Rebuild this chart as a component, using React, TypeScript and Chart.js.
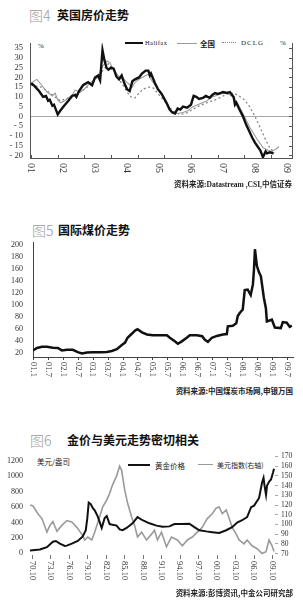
import React, { useEffect, useRef } from 'react';
import { Chart, registerables } from 'chart.js';
Chart.register(...registerables);

// ---------- Chart 1: UK house prices (x = months since Jan 2001) ----------
const ukLabelMonths = [0, 12, 24, 36, 48, 60, 72, 84, 96];
const ukLabels = ['01', '02', '03', '04', '05', '06', '07', '08', '09'];
const ukYTicks = [35, 30, 25, 20, 15, 10, 5, 0, -5, -10, -15, -20];
const ukMinorMonths = [0, 10, 20, 30, 40, 50, 60, 70, 80, 90];

const halifaxM = [0,1,2,3,4.5,5.6,6.4,7,8,8.6,10,11,12.4,14,15.4,16.5,17,18,19.5,21.4,22.9,24,25.1,25.9,26.8,27.5,28.3,29,30,31,32,33,34,35,36,37,38,39,40.5,41.6,43,44,44.6,45,46.5,47.6,49,50,51,52,53,54,55,56,57,58.5,60,61,62,63,64.5,65.6,67,68,69,70,71,72,73.5,74.6,76,76.5,77,78,79.5,80.6,82,83,84,85,86,87,88,88.5,89.6,91];
const halifaxV = [17,16,14.5,13,10,10.5,8,8.5,5.5,6,1,3,5.5,8,10.5,11,10,13,16,17.6,16,20,21,18.5,34,29,25,24,25,24.5,20.5,19,21,17,14,13,18,19,20,22,23.5,23.5,21,22,17,14,11.5,9,6.5,3.5,2,1.5,4,3.5,5,4.5,6,10.5,10,9,9.5,10.5,9.5,11,12,11.5,12,12.5,12,12.5,10,6,7,4,0,-4,-8,-11,-13.5,-15.5,-17.5,-21,-18,-19,-18.5,-19];

const nationM = [0,1.5,2.2,4,6,8,9,10,11.2,12.7,15.4,16.5,18.4,20,22,24.7,26,27,28.5,29.6,30.7,32.6,34.5,36.4,38,39,41,43,44,44.6,45.7,47.6,49.5,51.4,53,55,57,59,60.7,63.4,66,68,71,73.5,75.7,77.6,79.5,82,84.7,87,89,90.4,92.2,93];
const nationV = [17,18.5,19,16,12.5,10.5,12,8.5,7,8,11,13.5,12.5,14,17,20,23,26,28.5,27.5,24.5,21,19.5,17,15,17.5,19.5,21,21.5,20,17.5,14,10,5,2,1.5,2,3,5,6.5,8,10,11.5,12,10,6.5,1.5,-5.5,-11.5,-16,-17.5,-18,-16.5,-15.5];

const dclgM = [0,4,8,11,15,19,23,26,29,31,33,34.5,36,37.5,39,40.5,42,44,46,48,50,52,54,56,58,60,62.5,66,70,73.5,76,78,80,82,84,86,88,89.5,90.5,91.5];
const dclgV = [16,15,11,8,10,13,17,22,27,24,19,16,12.5,10,9.5,12,14,15,14.5,11,8,4.5,2,1,1.5,3,5,7,9,11.5,12,10.5,8.5,5,0,-6,-12,-16,-17.5,-18.5];

// ---------- Chart 2: coal price (x = months since Jan 2001) ----------
const coalLabelMonths = [0,6,12,18,24,30,36,42,48,54,60,66,72,78,84,90,96,102];
const coalLabels = ['01.1','01.7','02.1','02.7','03.1','03.7','04.1','04.7','05.1','05.7','06.1','06.7','07.1','07.7','08.1','08.7','09.1','09.7'];
const coalYTicks = [200,180,160,140,120,100,80,60,40,20];
const coalM = [0,1.6,3.6,5.6,8,10,11.6,13.7,16,18,19.7,21.7,24,27,29.7,31.7,33.7,35.7,37,38,39.8,41,42,43.8,45.8,48.2,51,53.8,55,57,58.2,59.8,61.8,63,65.9,68,69,70.3,71.9,73.9,76.3,77.9,78.3,80.3,81.7,82.3,83.1,84.3,85.1,86.3,87.5,88.4,88.8,89.2,90,90.8,91.6,92.8,93.6,94,96,97.2,99.6,100.4,102,103.2,104];
const coalV = [25,29,31,31,29.5,29,25,26,26,22,20,21.5,22,22,22.5,24,27,34,38,46,53,58,60,55,51.5,50,50,50,46,40,36,40,46,50,50,48.5,43,39,46,49,51.5,52,65,66,70,82,87,93,125,126,117,135,158,193,165,155,148,112,95,73,76,63,62,72,71,64,66];

// ---------- Chart 3: gold vs USD index (x = decimal year) ----------
const goldLabelYears = [1970.75,1973.75,1976.75,1979.75,1982.75,1985.75,1988.75,1991.75,1994.75,1997.75,2000.75,2003.75,2006.75,2009.75];
const goldLabels = ['70.10','73.10','76.10','79.10','82.10','85.10','88.10','91.10','94.10','97.10','00.10','03.10','06.10','09.10'];
const goldYTicks = [1200,1000,800,600,400,200,0];
const usdYTicks = [170,160,150,140,130,120,110,100,90,80,70];
const goldYear = [1970.43,1972.04,1973.18,1974.15,1974.63,1975.28,1976.09,1976.41,1977.22,1978.19,1979.0,1979.49,1979.73,1979.97,1980.3,1980.62,1980.94,1981.43,1982.08,1982.56,1982.89,1983.37,1983.86,1984.5,1984.99,1985.48,1986.12,1987.09,1987.9,1988.71,1989.84,1990.98,1991.95,1993.08,1993.89,1995.02,1996.32,1997.13,1997.93,1999.07,2000.04,2001.17,2002.3,2003.27,2004.08,2004.89,2005.7,2006.35,2006.83,2007.64,2008.13,2008.37,2008.53,2008.77,2008.94,2009.26,2009.58,2009.91,2010.07];
const goldV = [35,50,80,150,160,125,95,100,125,160,220,300,450,660,640,590,560,480,330,460,485,380,370,360,310,300,330,390,470,430,390,360,345,350,380,380,385,340,300,285,275,265,300,340,400,430,470,600,620,720,920,980,880,760,880,930,960,1050,1100];
const usdYear = [1970.43,1970.91,1971.72,1972.37,1973.18,1973.66,1974.15,1974.8,1975.6,1976.41,1977.22,1978.03,1978.84,1979.33,1979.81,1980.46,1980.94,1981.75,1982.24,1982.89,1983.37,1983.86,1984.5,1984.99,1985.31,1985.8,1986.28,1986.93,1987.42,1987.9,1988.55,1989.36,1990.17,1990.65,1991.14,1991.79,1992.6,1993.4,1994.37,1995.18,1995.99,1996.8,1997.61,1998.42,1999.23,2000.04,2000.69,2001.17,2001.66,2002.3,2002.79,2003.27,2003.92,2004.4,2005.21,2005.7,2006.51,2007.32,2008.13,2008.77,2009.26,2009.75,2010.07];
const usdV = [120,119,111,106,92,99,103,93,99,104,102.5,97,90,84,87,84,92,108,118,125,132,141,150,160,156,136,122,108,99,87,92,84,90,94,84,92,77,87,84,78,84,87,92,97,106,111,117,118,111,115,106,97,90,84,80,84,78,75,70,72,84,78,72];

const SERIF = "'Liberation Serif', 'DejaVu Serif', serif";
const CJK = "'Noto Sans CJK SC', 'Noto Sans', sans-serif";
const MIX = "'Liberation Serif', 'Noto Sans CJK SC', serif";

const pts = (xs: number[], ys: number[]) => xs.map((x, i) => ({ x, y: ys[i] }));
const setTicks = (vals: number[]) => (s: any) => { s.ticks = vals.map((v) => ({ value: v })); };

type DecorCfg = {
  lineColor?: string;
  rightLine?: boolean;
  rightTicks?: { scale: string; values: number[]; len: number };
  xTicks?: { values: number[]; len: number; dir: number; color?: string };
  xLabels?: { values: number[]; texts: string[]; offset: number; font: string; color: string };
};

function makeDecor(cfg: DecorCfg) {
  return {
    id: 'decor',
    afterDraw(chart: any) {
      const { ctx, chartArea: a, scales } = chart;
      const xs = scales.x;
      ctx.save();
      ctx.lineWidth = 1;
      ctx.strokeStyle = cfg.lineColor || '#555';
      if (cfg.rightLine) {
        const rx = Math.round(a.right) + 0.5;
        ctx.beginPath(); ctx.moveTo(rx, a.top); ctx.lineTo(rx, a.bottom); ctx.stroke();
      }
      if (cfg.rightTicks) {
        const s = scales[cfg.rightTicks.scale];
        const rx = Math.round(a.right);
        cfg.rightTicks.values.forEach((v) => {
          const py = Math.round(s.getPixelForValue(v)) + 0.5;
          ctx.beginPath(); ctx.moveTo(rx - cfg.rightTicks!.len, py); ctx.lineTo(rx, py); ctx.stroke();
        });
      }
      if (cfg.xTicks) {
        const t = cfg.xTicks;
        if (t.color) ctx.strokeStyle = t.color;
        const by = Math.round(a.bottom);
        t.values.forEach((v) => {
          const px = Math.round(xs.getPixelForValue(v)) + 0.5;
          ctx.beginPath(); ctx.moveTo(px, by); ctx.lineTo(px, by + t.dir * t.len); ctx.stroke();
        });
      }
      if (cfg.xLabels) {
        const l = cfg.xLabels;
        ctx.font = l.font;
        ctx.fillStyle = l.color;
        ctx.textAlign = 'left';
        ctx.textBaseline = 'middle';
        l.values.forEach((v, i) => {
          const px = xs.getPixelForValue(v);
          ctx.save();
          ctx.translate(px, a.bottom + l.offset);
          ctx.rotate(Math.PI / 2);
          ctx.fillText(l.texts[i], 0, 0);
          ctx.restore();
        });
      }
      ctx.restore();
    },
  };
}

const lineDs = (data: any[], color: string, width: number, extra: any = {}) => ({
  data, borderColor: color, borderWidth: width, pointRadius: 0, tension: 0, fill: false, ...extra,
});

const plain = (v: number) => String(v);

function cfgUK(): any {
  return {
    type: 'line',
    data: {
      datasets: [
        lineDs(pts(halifaxM, halifaxV), '#111', 2.4, { label: 'Halifax' }),
        lineDs(pts(nationM, nationV), '#9a9a9a', 1.1, { label: '全国' }),
        lineDs(pts(dclgM, dclgV), '#858585', 1.3, { label: 'DCLG', borderDash: [2, 2.5] }),
      ],
    },
    options: {
      responsive: false, animation: false,
      layout: { padding: { top: 15, right: 11, bottom: 25, left: 0 } },
      plugins: { legend: { display: false }, tooltip: { enabled: false } },
      scales: {
        x: { type: 'linear', min: -0.4, max: 97.9, ticks: { display: false }, grid: { display: false, drawTicks: false }, border: { display: true, color: '#555', width: 1 } },
        y: {
          type: 'linear', min: -21.4, max: 37.7,
          afterBuildTicks: setTicks(ukYTicks),
          afterFit: (s: any) => { s.width = 30; },
          ticks: { autoSkip: false, padding: 7, color: '#333', font: { family: SERIF, size: 8.5, lineHeight: 1 }, callback: (v: number) => (v < 0 ? '- ' + -v : String(v)) },
          grid: { drawTicks: false, color: (c: any) => (c.tick && c.tick.value === 0 ? '#a8a8a8' : 'rgba(0,0,0,0)') },
          border: { display: true, color: '#555', width: 1 },
        },
      },
    },
    plugins: [makeDecor({
      lineColor: '#555', rightLine: true,
      rightTicks: { scale: 'y', values: ukYTicks, len: 3 },
      xTicks: { values: ukMinorMonths, len: 3, dir: -1 },
      xLabels: { values: ukLabelMonths, texts: ukLabels, offset: 5, font: `10px ${SERIF}`, color: '#333' },
    })],
  };
}

function cfgCoal(): any {
  return {
    type: 'line',
    data: { datasets: [lineDs(pts(coalM, coalV), '#111', 2.5)] },
    options: {
      responsive: false, animation: false,
      layout: { padding: { top: 15, right: 10, bottom: 25, left: 0 } },
      plugins: { legend: { display: false }, tooltip: { enabled: false } },
      scales: {
        x: { type: 'linear', min: 0, max: 104.5, ticks: { display: false }, grid: { display: false, drawTicks: false }, border: { display: true, color: '#444', width: 1 } },
        y: {
          type: 'linear', min: 14, max: 205,
          afterBuildTicks: setTicks(coalYTicks),
          afterFit: (s: any) => { s.width = 33; },
          ticks: { autoSkip: false, padding: 10, color: '#333', font: { family: SERIF, size: 8, lineHeight: 1 }, callback: plain },
          grid: { display: false, drawTicks: false },
          border: { display: true, color: '#444', width: 1 },
        },
      },
    },
    plugins: [makeDecor({
      lineColor: '#444',
      xTicks: { values: coalLabelMonths, len: 3, dir: 1 },
      xLabels: { values: coalLabelMonths, texts: coalLabels, offset: 5, font: `8.5px ${SERIF}`, color: '#333' },
    })],
  };
}

function cfgGold(): any {
  return {
    type: 'line',
    data: {
      datasets: [
        lineDs(pts(goldYear, goldV), '#111', 2, { yAxisID: 'y' }),
        lineDs(pts(usdYear, usdV), '#9a9a9a', 1.6, { yAxisID: 'y2' }),
      ],
    },
    options: {
      responsive: false, animation: false,
      layout: { padding: { top: 15, right: 0, bottom: 35, left: 0 } },
      plugins: { legend: { display: false }, tooltip: { enabled: false } },
      scales: {
        x: { type: 'linear', min: 1970.43, max: 2010.23, ticks: { display: false }, grid: { display: false, drawTicks: false }, border: { display: false } },
        y: {
          type: 'linear', position: 'left', min: -22, max: 1278,
          afterBuildTicks: setTicks(goldYTicks),
          afterFit: (s: any) => { s.width = 30; },
          ticks: { autoSkip: false, padding: 7, color: '#333', font: { family: SERIF, size: 8, lineHeight: 1 }, callback: plain },
          grid: { display: false, drawTicks: false },
          border: { display: false },
        },
        y2: {
          type: 'linear', position: 'right', min: 68.5, max: 171.5,
          afterBuildTicks: setTicks(usdYTicks),
          afterFit: (s: any) => { s.width = 28; },
          ticks: { autoSkip: false, padding: 3, color: '#333', font: { family: SERIF, size: 7.5, lineHeight: 1 }, callback: plain },
          grid: { drawOnChartArea: false, drawTicks: true, tickLength: 3, color: '#aaa' },
          border: { display: false },
        },
      },
    },
    plugins: [makeDecor({
      lineColor: '#777',
      xTicks: { values: goldLabelYears, len: 4, dir: 1 },
      xLabels: { values: goldLabelYears, texts: goldLabels, offset: 6, font: `8.5px ${SERIF}`, color: '#333' },
    })],
  };
}

function Txt(p: { x: number; y: number; size: number; color?: string; weight?: number; family?: string; align?: 'left' | 'right'; spacing?: number; children: any }) {
  const style: any = {
    position: 'absolute', top: p.y - p.size * 0.6, fontSize: p.size, lineHeight: `${p.size * 1.2}px`,
    color: p.color || '#222', fontWeight: p.weight || 400, fontFamily: p.family || CJK, whiteSpace: 'nowrap',
    letterSpacing: p.spacing ? `${p.spacing}px` : undefined,
  };
  if (p.align === 'right') style.right = 303 - p.x; else style.left = p.x;
  return <div style={style}>{p.children}</div>;
}

function Ln(p: { x: number; y: number; w: number; t: number; color: string; style?: string }) {
  return <div style={{ position: 'absolute', left: p.x, top: p.y - p.t / 2, width: p.w, height: 0, borderTop: `${p.t}px ${p.style || 'solid'} ${p.color}` }} />;
}

export default function App() {
  const r1 = useRef<HTMLCanvasElement>(null);
  const r2 = useRef<HTMLCanvasElement>(null);
  const r3 = useRef<HTMLCanvasElement>(null);

  useEffect(() => {
    const charts = [
      new Chart(r1.current as HTMLCanvasElement, cfgUK()),
      new Chart(r2.current as HTMLCanvasElement, cfgCoal()),
      new Chart(r3.current as HTMLCanvasElement, cfgGold()),
    ];
    return () => charts.forEach((c) => c.destroy());
  }, []);

  const cv = (top: number, h: number): any => ({ position: 'absolute', left: 0, top, width: 303, height: h });

  return (
    <div style={{ position: 'absolute', left: 0, top: 0, width: 303, height: 600, background: '#fff', overflow: 'hidden' }}>
      {/* Chart 1 */}
      <Txt x={29} y={15} size={14} color="#9a9a9a" weight={300}>图4</Txt>
      <Txt x={57} y={15} size={12} weight={700} color="#111">英国房价走势</Txt>
      <Txt x={38} y={46} size={7} family={SERIF}>%</Txt>
      <Ln x={125} y={43} w={18} t={2.5} color="#111" />
      <Txt x={145} y={43} size={6.5} family={SERIF} spacing={0.4}>Halifax</Txt>
      <Ln x={177} y={43} w={20} t={1} color="#999" />
      <Txt x={200} y={43} size={7.5} weight={700}>全国</Txt>
      <Ln x={222} y={43} w={14} t={1.5} color="#888" style="dotted" />
      <Txt x={241} y={43} size={7} family={SERIF} spacing={1}>DCLG</Txt>
      <Txt x={280} y={43} size={7} family={SERIF}>%</Txt>
      <canvas ref={r1} width={303} height={155} style={cv(28, 155)} />
      <Txt x={292} y={184} size={7.5} family={MIX} align="right" weight={600}>资料来源:Datastream ,CSI,中信证券</Txt>

      {/* Chart 2 */}
      <Txt x={32} y={230} size={14} color="#9a9a9a" weight={300}>图5</Txt>
      <Txt x={58} y={230} size={12} weight={700} color="#111">国际煤价走势</Txt>
      <canvas ref={r2} width={303} height={155} style={cv(227, 155)} />
      <Txt x={293} y={390} size={7.5} align="right" weight={600}>资料来源:中国煤炭市场网,申银万国</Txt>

      {/* Chart 3 */}
      <Txt x={30} y={440} size={14} color="#9a9a9a" weight={300}>图6</Txt>
      <Txt x={67} y={440} size={12} weight={700} color="#111">金价与美元走势密切相关</Txt>
      <Txt x={37} y={461} size={7.5}>美元/盎司</Txt>
      <Ln x={128} y={465} w={22} t={2.5} color="#111" />
      <Txt x={155} y={465} size={7.5}>黄金价格</Txt>
      <Ln x={198} y={465} w={15} t={1.5} color="#999" />
      <Txt x={217} y={465} size={7}>美元指数(右轴)</Txt>
      <canvas ref={r3} width={303} height={150} style={cv(440, 150)} />
      <Txt x={293} y={592} size={7.5} align="right" weight={600}>资料来源:彭博资讯,中金公司研究部</Txt>
    </div>
  );
}
